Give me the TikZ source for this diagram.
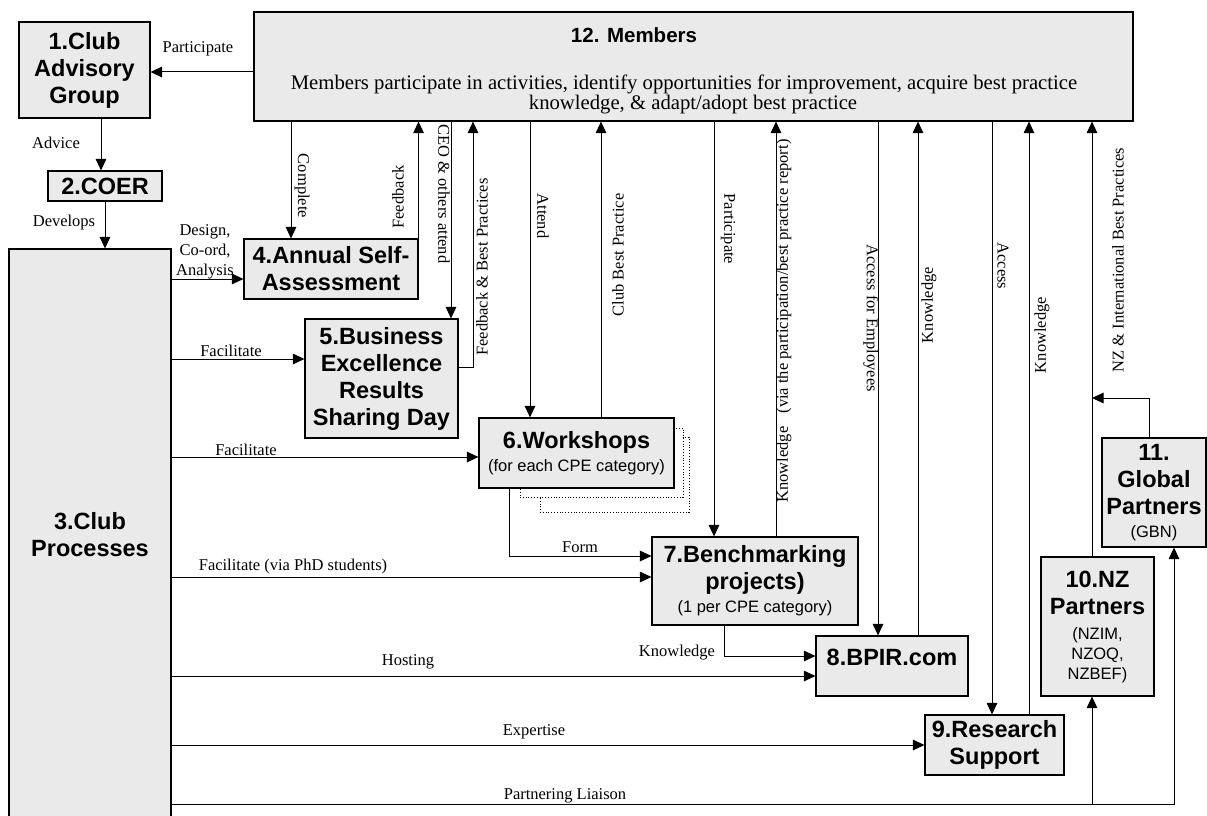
\documentclass[tikz,border=0pt]{standalone}
\usepackage{fontspec}
\setmainfont{Liberation Serif}
\newfontfamily\arialf{Liberation Sans}
\usetikzlibrary{arrows.meta}
\definecolor{boxgray}{RGB}{234,234,234}
\newcommand{\subtxt}[1]{{\mdseries\fontsize{16.5}{20}\selectfont #1}}
\tikzset{
  box/.style={draw, fill=boxgray, line width=1.1pt, inner sep=0pt, align=center,
    font=\arialf\bfseries\fontsize{23.5}{27}\selectfont},
  boxtext/.style={inner sep=0pt, align=center, font=\arialf\bfseries\fontsize{23.5}{27}\selectfont},
  shadowbox/.style={draw, dotted, fill=white, line width=0.8pt, inner sep=0pt},
  lbl/.style={inner sep=0pt, align=center, font=\fontsize{16.5}{20}\selectfont},
  body/.style={inner sep=0pt, font=\fontsize{20.7}{22}\selectfont},
  conn/.style={line width=1pt, -{Triangle[length=11.5pt,width=10.5pt]}},
}
\begin{document}
\begin{tikzpicture}[x=1pt,y=-1pt]
\useasboundingbox (0,0) rectangle (1207,816);

% ---------- boxes ----------
\node[box, minimum width=879pt, minimum height=109pt] (b12) at (693.5,66.5) {};
\node[boxtext, font=\arialf\bfseries\fontsize{20.5}{24}\selectfont] (t12) at (634,35) {12. Members};
\node[body] (m12a) at (684,84)
  {Members participate in activities, identify opportunities for improvement, acquire best practice};
\node[body] (m12b) at (693,105) {knowledge, \& adapt/adopt best practice};

\node[box, minimum width=131pt, minimum height=96pt] (b1) at (84.5,70) {1.Club\\Advisory\\Group};
\node[box, minimum width=114pt, minimum height=30pt] (b2) at (105,186) {2.COER};
\node[box, minimum width=162pt, minimum height=572pt] (b3) at (90,535) {3.Club\\Processes};
\node[box, minimum width=174pt, minimum height=60pt] (b4) at (331,269) {4.Annual Self-\\Assessment};
\node[box, minimum width=153pt, minimum height=119pt] (b5) at (381.5,378.5) {5.Business\\Excellence\\Results\\Sharing Day};

\node[shadowbox, minimum width=149pt, minimum height=75pt] (s2) at (614.5,474.5) {};
\node[shadowbox, minimum width=163pt, minimum height=69pt] (s1) at (601.5,462.5) {};
\node[box, minimum width=195pt, minimum height=70pt] (b6) at (576.5,453) {6.Workshops\\[-4pt]\subtxt{(for each CPE category)}};

\node[box, minimum width=206pt, minimum height=88pt] (b7) at (755,581) {7.Benchmarking\\projects)\\[-4pt]\subtxt{(1 per CPE category)}};
\node[box, minimum width=152pt, minimum height=60pt] (b8) at (892,666) {};
\node[boxtext] (t8) at (892,657) {8.BPIR.com};
\node[box, minimum width=139pt, minimum height=60pt] (b9) at (994.5,745) {9.Research\\Support};
\node[box, minimum width=113pt, minimum height=139pt] (b10) at (1097.5,626.5)
  {10.NZ\\Partners\\[-2pt]\subtxt{(NZIM,}\\[-7pt]\subtxt{NZOQ,}\\[-7pt]\subtxt{NZBEF)}};
\node[box, minimum width=104pt, minimum height=109pt] (b11) at (1154,492.5)
  {11.\\Global\\Partners\\[-4pt]\subtxt{(GBN)}};

% ---------- helper coordinates ----------
\coordinate (xAdv) at (101,0);
\coordinate (xCompl) at (291,0);
\coordinate (xCEO) at (451,0);
\coordinate (xFBP) at (473,0);
\coordinate (xAtt) at (530,0);
\coordinate (xCBP) at (601,0);
\coordinate (xForm) at (509,0);
\coordinate (xPart) at (714,0);
\coordinate (xKv) at (776,0);
\coordinate (xKn7) at (724,0);
\coordinate (xAE) at (878,0);
\coordinate (xK8) at (918,0);
\coordinate (xAcc) at (992,0);
\coordinate (xK9) at (1029,0);
\coordinate (xNZ) at (1092,0);
\coordinate (xGB) at (1149,0);
\coordinate (xPL) at (1174,0);
\coordinate (yPart) at (0,72);
\coordinate (yDes) at (0,279);
\coordinate (yF5) at (0,359);
\coordinate (yFBP) at (0,367);
\coordinate (yF6) at (0,457);
\coordinate (yForm) at (0,556);
\coordinate (yPhD) at (0,577);
\coordinate (yKn8) at (0,656);
\coordinate (yHost) at (0,676);
\coordinate (yGB) at (0,398);
\coordinate (yExp) at (0,745);
\coordinate (yPL) at (0,804);

% ---------- connectors ----------
\draw[conn] (b12.west |- yPart) -- (b1.east |- yPart);
\draw[conn] (b1.south -| xAdv) -- (b2.north -| xAdv);
\draw[conn] (b2.south) -- (b2.south |- b3.north);
\draw[conn] (b3.east |- yDes) -- (b4.west |- yDes);
\draw[conn] (b12.south -| xCompl) -- (b4.north -| xCompl);
\draw[conn] (b4.north east) -- (b12.south -| b4.north east);
\draw[conn] (b12.south -| xCEO) -- (b5.north -| xCEO);
\draw[conn] (b5.east |- yFBP) -- (xFBP |- yFBP) -- (b12.south -| xFBP);
\draw[conn] (b3.east |- yF5) -- (b5.west |- yF5);
\draw[conn] (b3.east |- yF6) -- (b6.west |- yF6);
\draw[conn] (b12.south -| xAtt) -- (b6.north -| xAtt);
\draw[conn] (b6.north -| xCBP) -- (b12.south -| xCBP);
\draw[conn] (b6.south -| xForm) -- (xForm |- yForm) -- (b7.west |- yForm);
\draw[conn] (b3.east |- yPhD) -- (b7.west |- yPhD);
\draw[conn] (b12.south -| xPart) -- (b7.north -| xPart);
\draw[conn] (b7.north -| xKv) -- (b12.south -| xKv);
\draw[conn] (b7.south -| xKn7) -- (xKn7 |- yKn8) -- (b8.west |- yKn8);
\draw[conn] (b3.east |- yHost) -- (b8.west |- yHost);
\draw[conn] (b12.south -| xAE) -- (b8.north -| xAE);
\draw[conn] (b8.north -| xK8) -- (b12.south -| xK8);
\draw[conn] (b12.south -| xAcc) -- (b9.north -| xAcc);
\draw[conn] (b9.north -| xK9) -- (b12.south -| xK9);
\draw[conn] (b10.north -| xNZ) -- (b12.south -| xNZ);
\draw[conn] (b11.north -| xGB) -- (xGB |- yGB) -- (xNZ |- yGB);
\draw[conn] (b3.east |- yExp) -- (b9.west |- yExp);
\draw[conn] (b3.east |- yPL) -- (xPL |- yPL) -- (b11.south -| xPL);
\draw[conn] (xNZ |- yPL) -- (b10.south -| xNZ);

% ---------- labels ----------
\node[lbl] (lPart) at (198,49) {Participate};
\node[lbl] (lAdv) at (56,143) {Advice};
\node[lbl] (lDev) at (64,223) {Develops};
\node[lbl] (lDes) at (205,252) {Design,\\Co-ord,\\Analysis};
\node[lbl, rotate=-90] (lCompl) at (302,186) {Complete};
\node[lbl, rotate=90] (lFb) at (398,197) {Feedback};
\node[lbl, rotate=-90] (lCEO) at (444,194) {CEO \& others attend};
\node[lbl, rotate=90] (lFBP) at (482,267) {Feedback \& Best Practices};
\node[lbl, rotate=-90] (lAtt) at (543,216) {Attend};
\node[lbl, rotate=90] (lCBP) at (618,255) {Club Best Practice};
\node[lbl, rotate=-90] (lPart7) at (728,229) {Participate};
\node[lbl, rotate=90] (lKv) at (784,321) {Knowledge\hspace{13pt}(via the participation/best practice report)};
\node[lbl, rotate=-90] (lAE) at (871,318) {Access for Employees};
\node[lbl, rotate=90] (lK8) at (929,305) {Knowledge};
\node[lbl, rotate=-90] (lAcc) at (1003,266) {Access};
\node[lbl, rotate=90] (lK9) at (1042,335) {Knowledge};
\node[lbl, rotate=90] (lNZ) at (1118,260) {NZ \& International Best Practices};
\node[lbl] (lF5) at (231,351) {Facilitate};
\node[lbl] (lF6) at (246,450) {Facilitate};
\node[lbl] (lForm) at (580,547) {Form};
\node[lbl] (lPhD) at (293,567) {Facilitate (via PhD students)};
\node[lbl] (lKn8) at (677,653) {Knowledge};
\node[lbl] (lHost) at (408,662) {Hosting};
\node[lbl] (lExp) at (534,732) {Expertise};
\node[lbl] (lPL) at (565,796) {Partnering Liaison};
\end{tikzpicture}
\end{document}
